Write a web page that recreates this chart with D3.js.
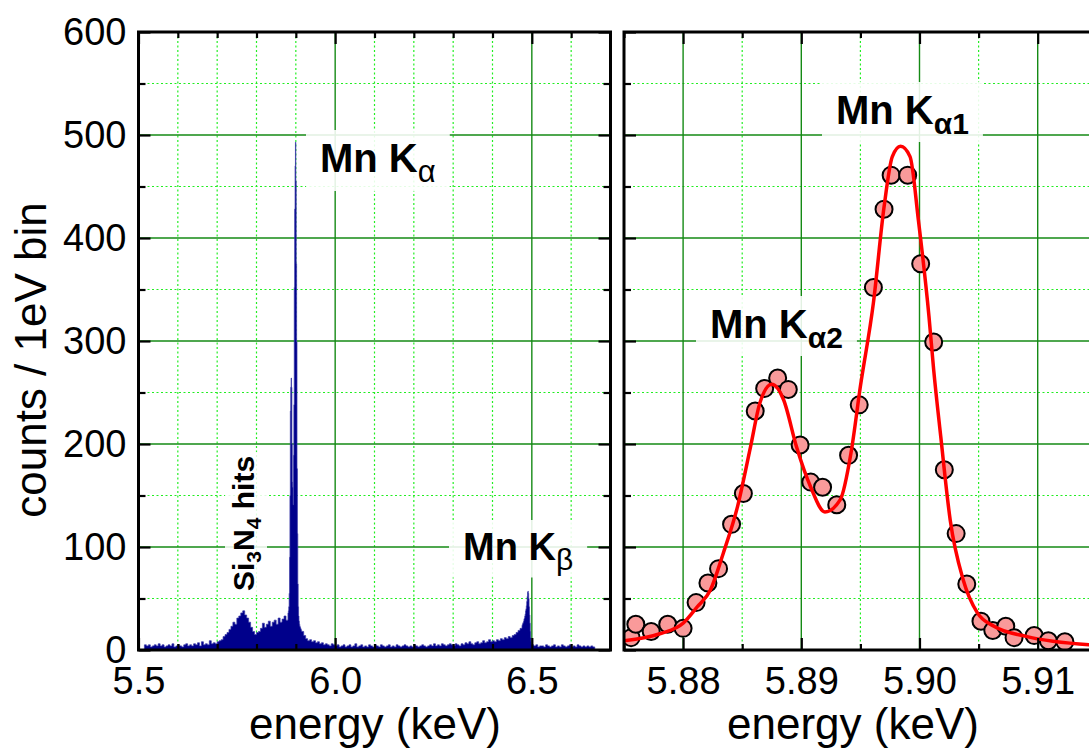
<!DOCTYPE html>
<html>
<head>
<meta charset="utf-8">
<script src="https://cdn.jsdelivr.net/npm/d3@7/dist/d3.min.js"></script>
<style>
  body { margin: 0; background: #fff; }
  text { font-family: "Liberation Sans", Arial, sans-serif; }
</style>
</head>
<body>
<svg id="chart" width="1089" height="749"></svg>
<script>
// ---- left panel: raw spectrum, counts per bin (bins of various widths) ----
const lowKeV0 = 5.515, lowStep = 0.005;   // 5.515 .. 5.880
const lowCounts = [5,4,5,3,4,5,4,6,4,5,3,4,5,4,6,3,4,5,4,3,5,6,4,5,4,6,5,7,4,8,5,6,5,9,6,7,6,8,
  9,10,13,15,17,20,23,27,25,31,33,36,38,34,31,27,22,18,15,17,
  18,21,26,22,25,28,23,27,29,25,31,27,30,33,29,36];
const kaKeV0 = 5.881, kaStep = 0.001;     // 5.881 .. 5.914
const kaCounts = [38,42,55,90,150,232,255,264,255,200,163,158,141,189,238,352,428,470,493,455,
  375,299,176,113,64,42,33,28,25,23,22,21,20,19];
const midKeV0 = 5.915, midStep = 0.005;   // 5.915 .. 6.475
const midCounts = [18,14,11,9,10,8,9,7,8,6,7,5,6,5,4,6,5,4,
  5,3,4,5,3,4,5,3,4,6,3,4,5,3,4,3,5,4,3,5,4,3,5,4,3,4,5,3,4,3,5,4,3,4,5,4,3,4,3,5,
  4,3,4,5,4,3,4,5,4,6,4,5,4,6,5,4,5,6,5,4,6,5,4,6,5,7,6,8,6,5,
  7,8,6,7,9,7,8,10,8,9,8,10,9,11,10,12,11,13,12,14,15,17,19,21,24];
const kbKeV0 = 6.476, kbStep = 0.001;     // 6.476 .. 6.500
const kbCounts = [25,26,27,28,30,31,33,35,38,40,43,47,52,56,57,55,50,42,34,26,18,12,8,6,5];
const highKeV0 = 6.505, highStep = 0.005; // 6.505 .. 6.655
const highCounts = [4,5,3,4,4,3,5,4,3,4,5,3,4,3,5,4,3,4,5,3,4,3,5,4,3,4,3,4,3,4,3];

// ---- right panel: zoom on K-alpha, 1 eV bins + fit ----
const ptKeV = [5.8756,5.8760,5.8773,5.8787,5.8800,5.8811,5.8821,5.8830,5.8841,5.8851,5.8861,5.8869,
  5.8880,5.8889,5.8899,5.8908,5.8918,5.8930,5.8940,5.8949,5.8961,5.8970,5.8976,5.8990,5.9001,
  5.9012,5.9021,5.9031,5.9040,5.9052,5.9062,5.9073,5.9080,5.9097,5.9109,5.9123];
const ptCounts = [12,25,18,25,21,46,65,79,122,152,232,254,264,253,199,163,158,141,189,238,
  352,428,461,461,375,299,175,113,64,28,19,23,12,14,9,8];
const fitKeV = [5.8740,5.8750,5.8781,5.8800,5.8812,5.8823,5.8834,5.8846,5.8857,5.8865,5.8875,5.8885,
  5.8896,5.8908,5.8920,5.8933,5.8942,5.8950,5.8961,5.8970,5.8977,5.8984,5.8992,5.8999,5.9008,
  5.9012,5.9018,5.9026,5.9037,5.9049,5.9063,5.9091,5.9144,5.9160];
const fitCounts = [8,9,16,26,42,58,94,139,197,240,258,243,197,158,134,146,191,256,337,430,479,
  489,479,418,324,272,207,126,68,36,23,13,5,4];

const yTicks = [0,100,200,300,400,500,600];
const yMinor = [50,150,250,350,450,550];
const leftTicks = [5.5,6.0,6.5];
const leftMinor = [5.6,5.7,5.8,5.9,6.1,6.2,6.3,6.4,6.6];
const rightTicks = [5.88,5.89,5.90,5.91];
const rightMinor = [5.875,5.885,5.895,5.905,5.915];

const labels = {
  ka: ["Mn K", "\u03b1"], kb: ["Mn K", "\u03b2"], ka1: ["Mn K", "\u03b11"], ka2: ["Mn K", "\u03b12"]
};

// build spectrum bins
function bins(e0, step, counts) {
  return counts.map((c, i) => ({ e: +(e0 + i * step).toFixed(4), c: c }));
}
const spectrum = [].concat(
  bins(lowKeV0, lowStep, lowCounts),
  bins(kaKeV0, kaStep, kaCounts),
  bins(midKeV0, midStep, midCounts),
  bins(kbKeV0, kbStep, kbCounts),
  bins(highKeV0, highStep, highCounts),
  [{ e: 6.66, c: 0 }]
);

const svg = d3.select("#chart");
const yTop = 32, yBot = 650;
const y = d3.scaleLinear().domain([0, 600]).range([yBot, yTop]);
const xL = d3.scaleLinear().domain([5.5, 6.7]).range([138.5, 610.5]);
const xR = d3.scaleLinear().domain([5.875, 5.915]).range([624, 1096.8]);

svg.append("clipPath").attr("id", "clipL").append("rect")
  .attr("x", 138.5).attr("y", yTop).attr("width", 472).attr("height", yBot - yTop);
svg.append("clipPath").attr("id", "clipR").append("rect")
  .attr("x", 624).attr("y", yTop).attr("width", 480).attr("height", yBot - yTop);

function drawGrid(x, xMajor, xMinor, clip) {
  const g = svg.append("g").attr("clip-path", `url(#${clip})`);
  const [x0, x1] = x.range();
  g.selectAll(".vmin").data(xMinor).join("line")
    .attr("x1", d => x(d)).attr("x2", d => x(d)).attr("y1", yTop).attr("y2", yBot)
    .attr("stroke", "#22ee22").attr("stroke-width", 1.2).attr("stroke-dasharray", "2,2.5");
  g.selectAll(".hmin").data(yMinor).join("line")
    .attr("x1", x0).attr("x2", x1).attr("y1", d => y(d)).attr("y2", d => y(d))
    .attr("stroke", "#22ee22").attr("stroke-width", 1.2).attr("stroke-dasharray", "2,2.5");
  g.selectAll(".vmaj").data(xMajor).join("line")
    .attr("x1", d => x(d)).attr("x2", d => x(d)).attr("y1", yTop).attr("y2", yBot)
    .attr("stroke", "#158a15").attr("stroke-width", 1.4);
  g.selectAll(".hmaj").data(yTicks.slice(1, -1)).join("line")
    .attr("x1", x0).attr("x2", x1).attr("y1", d => y(d)).attr("y2", d => y(d))
    .attr("stroke", "#158a15").attr("stroke-width", 1.4);
}
drawGrid(xL, leftTicks, leftMinor, "clipL");
drawGrid(xR, rightTicks, rightMinor, "clipR");

// spectrum as filled histogram
const area = d3.area().curve(d3.curveStepAfter)
  .x(d => xL(d.e)).y0(y(0)).y1(d => y(d.c));
svg.append("path").datum(spectrum).attr("d", area)
  .attr("fill", "#00008b").attr("stroke", "#3a3aa8").attr("stroke-width", 0.7)
  .attr("clip-path", "url(#clipL)");

// right panel points and fit
const pts = ptKeV.map((e, i) => ({ e: e, c: ptCounts[i] }));
const fit = fitKeV.map((e, i) => ({ e: e, c: fitCounts[i] }));
const gR = svg.append("g").attr("clip-path", "url(#clipR)");
gR.selectAll("circle").data(pts).join("circle")
  .attr("cx", d => xR(d.e)).attr("cy", d => y(d.c)).attr("r", 8.5)
  .attr("fill", "#f99a9a").attr("stroke", "#000").attr("stroke-width", 2);
gR.append("path").datum(fit)
  .attr("d", d3.line().curve(d3.curveMonotoneX).x(d => xR(d.e)).y(d => y(d.c)))
  .attr("fill", "none").attr("stroke", "#ff0000").attr("stroke-width", 3.5);

// axes with inward ticks
function ticks(axis, transform, values, size, labelled, pad) {
  const g = svg.append("g").attr("transform", transform)
    .call(axis.tickValues(values).tickSizeInner(-size).tickSizeOuter(0).tickPadding(pad || 12)
      .tickFormat(labelled ? labelled : ""));
  g.select(".domain").remove();
  g.selectAll(".tick line").attr("stroke", "#000").attr("stroke-width", 2.2);
  g.selectAll(".tick text").attr("font-size", 38).attr("fill", "#000")
    .attr("font-family", "'Liberation Sans', Arial, sans-serif");
  return g;
}
const fmtL = d3.format(".1f"), fmtR = d3.format(".2f");
ticks(d3.axisLeft(y), "translate(138.5,0)", yTicks, 12, d3.format("d"), 12);
ticks(d3.axisLeft(y), "translate(138.5,0)", yMinor, 7, null);
ticks(d3.axisRight(y), "translate(610.5,0)", yTicks, 12, null);
ticks(d3.axisRight(y), "translate(610.5,0)", yMinor, 7, null);
ticks(d3.axisBottom(xL), `translate(0,${yBot})`, leftTicks, 12, fmtL, 17);
ticks(d3.axisBottom(xL), `translate(0,${yBot})`, leftMinor, 6, null);
ticks(d3.axisTop(xL), `translate(0,${yTop})`, leftTicks, 12, null);
ticks(d3.axisTop(xL), `translate(0,${yTop})`, leftMinor, 6, null);
ticks(d3.axisLeft(y), "translate(624,0)", yTicks, 12, null);
ticks(d3.axisLeft(y), "translate(624,0)", yMinor, 7, null);
ticks(d3.axisBottom(xR), `translate(0,${yBot})`, rightTicks, 12, fmtR, 17);
ticks(d3.axisBottom(xR), `translate(0,${yBot})`, rightMinor, 6, null);
ticks(d3.axisTop(xR), `translate(0,${yTop})`, rightTicks, 12, null);
ticks(d3.axisTop(xR), `translate(0,${yTop})`, rightMinor, 6, null);

// frames
svg.append("rect").attr("x", 138.5).attr("y", yTop).attr("width", 472).attr("height", yBot - yTop)
  .attr("fill", "none").attr("stroke", "#000").attr("stroke-width", 3);
svg.append("rect").attr("x", 624).attr("y", yTop).attr("width", 480).attr("height", yBot - yTop)
  .attr("fill", "none").attr("stroke", "#000").attr("stroke-width", 3);

// axis titles
svg.append("text").attr("x", 375).attr("y", 739).attr("text-anchor", "middle")
  .attr("font-size", 44).text("energy (keV)");
svg.append("text").attr("x", 853).attr("y", 739).attr("text-anchor", "middle")
  .attr("font-size", 44).text("energy (keV)");
svg.append("text").attr("transform", "translate(46,360) rotate(-90)").attr("text-anchor", "middle")
  .attr("font-size", 44).text("counts / 1eV bin");

// peak labels with white backing
function peakLabel(x, yb, parts, size, subSize, subWeight) {
  const g = svg.append("g");
  const bg = g.append("rect").attr("fill", "#fff").attr("opacity", 0.88);
  const t = g.append("text").attr("x", x).attr("y", yb).attr("font-size", size)
    .attr("font-weight", "bold").attr("fill", "#000");
  t.append("tspan").text(parts[0]);
  t.append("tspan").attr("font-size", subSize).attr("font-weight", subWeight)
    .attr("dy", size * 0.25).text(parts[1]);
  const b = t.node().getBBox();
  bg.attr("x", b.x - 14).attr("y", b.y - 6).attr("width", b.width + 28).attr("height", b.height + 8);
}
peakLabel(320, 172, labels.ka, 40, 31, "normal");
peakLabel(463, 560, labels.kb, 38, 30, "normal");
peakLabel(836, 124, labels.ka1, 40, 30, "bold");
peakLabel(710, 338, labels.ka2, 40, 30, "bold");

// rotated Si3N4 label
const si = svg.append("g").attr("transform", "translate(254,591) rotate(-90)");
const siBg = si.append("rect").attr("fill", "#fff").attr("opacity", 0.85);
const st = si.append("text").attr("x", 0).attr("y", 0).attr("font-size", 30).attr("font-weight", "bold");
st.append("tspan").text("Si");
st.append("tspan").attr("font-size", 21).attr("dy", 7).text("3");
st.append("tspan").attr("dy", -7).text("N");
st.append("tspan").attr("font-size", 21).attr("dy", 7).text("4");
st.append("tspan").attr("dy", -7).text(" hits");
const sb = st.node().getBBox();
siBg.attr("x", sb.x - 4).attr("y", sb.y - 2).attr("width", sb.width + 8).attr("height", sb.height + 4);
</script>
</body>
</html>
